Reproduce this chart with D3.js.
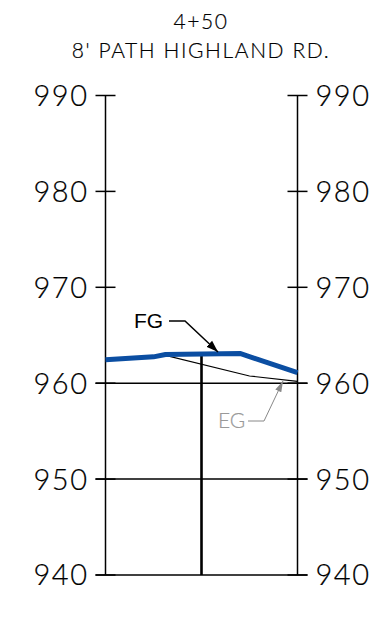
<!DOCTYPE html>
<html>
<head>
<meta charset="utf-8">
<script src="https://cdn.jsdelivr.net/npm/d3@7/dist/d3.min.js"></script>
<style>
  body { margin: 0; background: #fff; }
  .cad { font-family: "Lato", "DejaVu Sans", sans-serif; font-weight: 300; }
</style>
</head>
<body>
<div id="chart"></div>
<script>
// title lines
var titleLines = ["4+50", "8' PATH HIGHLAND RD."];

// elevation ticks
var elevTicks = [940, 950, 960, 970, 980, 990];
// full width grid lines (below ground)
var gridLines = [940, 950, 960];

// finished grade (offset, elevation)
var fgOffset = [-20, -10, -7.5, 8, 20];
var fgElev = [962.45, 962.75, 963.0, 963.1, 961.1];

// existing grade
var egOffset = [-20, -10, -7.5, 10, 20];
var egElev = [962.45, 962.75, 962.9, 960.75, 960.2];

var width = 382, height = 623;

var svg = d3.select("#chart").append("svg")
    .attr("width", width)
    .attr("height", height);

var x = d3.scaleLinear().domain([-20, 20]).range([105.5, 297.5]);
var y = d3.scaleLinear().domain([940, 990]).range([575, 95.5]);

// markers
var defs = svg.append("defs");
defs.append("marker").attr("id", "arrBlack")
    .attr("viewBox", "0 0 10 10").attr("refX", 10).attr("refY", 5)
    .attr("markerWidth", 12).attr("markerHeight", 12).attr("markerUnits", "userSpaceOnUse")
    .attr("orient", "auto")
    .append("path").attr("d", "M0,1.5 L10,5 L0,8.5 Z").attr("fill", "#000");
defs.append("marker").attr("id", "arrGray")
    .attr("viewBox", "0 0 10 10").attr("refX", 10).attr("refY", 5)
    .attr("markerWidth", 11).attr("markerHeight", 11).attr("markerUnits", "userSpaceOnUse")
    .attr("orient", "auto")
    .append("path").attr("d", "M0,2 L10,5 L0,8 Z").attr("fill", "#888");

// helper: thin CAD-like text
function cadText(sel, size, color, sw) {
    sel.attr("class", "cad")
        .attr("font-size", size)
        .attr("fill", color)
        .attr("stroke", color)
        .attr("stroke-width", sw);
}

// title
svg.selectAll("text.title").data(titleLines).enter().append("text")
    .call(cadText, 21, "#000", 0.2)
    .attr("x", 201)
    .attr("y", function(d, i) { return 29 + i * 29; })
    .attr("text-anchor", "middle")
    .attr("letter-spacing", 1.6)
    .text(function(d) { return d; });

// frame verticals
svg.append("g").selectAll("line").data([-20, 20]).enter().append("line")
    .attr("x1", function(d) { return x(d); }).attr("x2", function(d) { return x(d); })
    .attr("y1", y(990)).attr("y2", y(940))
    .attr("stroke", "#000").attr("stroke-width", 1.5);

// grid lines
svg.append("g").selectAll("line").data(gridLines).enter().append("line")
    .attr("x1", x(-20) - 10).attr("x2", x(20) + 10)
    .attr("y1", function(d) { return y(d); }).attr("y2", function(d) { return y(d); })
    .attr("stroke", "#000").attr("stroke-width", 1.5);

// ticks
var tg = svg.append("g");
tg.selectAll("line.l").data(elevTicks).enter().append("line")
    .attr("x1", x(-20) - 10).attr("x2", x(-20) + 10)
    .attr("y1", function(d) { return y(d); }).attr("y2", function(d) { return y(d); })
    .attr("stroke", "#000").attr("stroke-width", 1.5);
tg.selectAll("line.r").data(elevTicks).enter().append("line")
    .attr("x1", x(20) - 10).attr("x2", x(20) + 10)
    .attr("y1", function(d) { return y(d); }).attr("y2", function(d) { return y(d); })
    .attr("stroke", "#000").attr("stroke-width", 1.5);

// tick labels
tg.selectAll("text.l").data(elevTicks).enter().append("text")
    .call(cadText, 29, "#000", 0.2)
    .attr("x", x(-20) - 17)
    .attr("y", function(d) { return y(d); })
    .attr("dy", "0.36em")
    .attr("text-anchor", "end")
    .attr("letter-spacing", 1.5)
    .text(function(d) { return d; });
tg.selectAll("text.r").data(elevTicks).enter().append("text")
    .call(cadText, 29, "#000", 0.2)
    .attr("x", x(20) + 18)
    .attr("y", function(d) { return y(d); })
    .attr("dy", "0.36em")
    .attr("text-anchor", "start")
    .attr("letter-spacing", 1.5)
    .text(function(d) { return d; });

// centerline from finished grade down
var fgData = fgOffset.map(function(d, i) { return [d, fgElev[i]]; });
var egData = egOffset.map(function(d, i) { return [d, egElev[i]]; });
var fgAt0 = d3.scaleLinear().domain(fgOffset).range(fgElev)(0);
svg.append("line")
    .attr("x1", x(0)).attr("x2", x(0))
    .attr("y1", y(fgAt0)).attr("y2", y(940))
    .attr("stroke", "#000").attr("stroke-width", 2.6);

var line = d3.line()
    .x(function(d) { return x(d[0]); })
    .y(function(d) { return y(d[1]); });

// existing grade
svg.append("path").datum(egData)
    .attr("d", line)
    .attr("fill", "none").attr("stroke", "#000").attr("stroke-width", 1.2);

// finished grade
svg.append("path").datum(fgData)
    .attr("d", line)
    .attr("fill", "none").attr("stroke", "#0b4ea2").attr("stroke-width", 5)
    .attr("stroke-linejoin", "round");

// FG label + leader
svg.append("text")
    .attr("x", 134).attr("y", 328)
    .attr("font-family", "Liberation Sans, Arial, sans-serif")
    .attr("font-size", 21)
    .attr("fill", "#000")
    .text("FG");
svg.append("path")
    .attr("d", "M169,321 L185,321 L218,352")
    .attr("fill", "none").attr("stroke", "#000").attr("stroke-width", 1.5)
    .attr("marker-end", "url(#arrBlack)");

// EG label + leader
svg.append("text")
    .call(cadText, 21, "#999", 0.2)
    .attr("x", 218).attr("y", 428)
    .text("EG");
svg.append("path")
    .attr("d", "M248,421 L264,421 L283,381")
    .attr("fill", "none").attr("stroke", "#888").attr("stroke-width", 1)
    .attr("marker-end", "url(#arrGray)");
</script>
</body>
</html>
